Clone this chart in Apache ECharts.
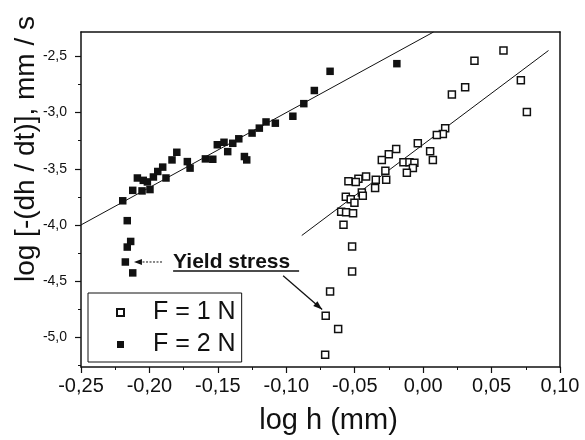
<!DOCTYPE html>
<html>
<head>
<meta charset="utf-8">
<script src="https://cdn.jsdelivr.net/npm/echarts@6/dist/echarts.min.js"></script>
<style>html,body{margin:0;padding:0;background:#fff}#c{width:585px;height:440px}</style>
</head>
<body>
<div id="c"></div>
<script>
// F = 1 N (open squares): log h, log[-(dh/dt)]
var h1 = [0.0587,0.0375,0.0714,0.0307,0.0210,0.0758,0.0161,0.0144,0.0100,-0.0039,0.0051,0.0071,-0.0197,-0.0251,-0.0302,-0.0144,-0.0100,-0.0064,-0.0075,-0.0119,-0.0276,-0.0270,-0.0346,-0.0351,-0.0417,-0.0473,-0.0492,-0.0546,-0.0448,-0.0441,-0.0565,-0.0529,-0.0502,-0.0599,-0.0563,-0.0512,-0.0582,-0.0519,-0.0519,-0.0680,-0.0712,-0.0621,-0.0716];
var v1 = [-2.447,-2.538,-2.712,-2.774,-2.838,-2.994,-3.138,-3.191,-3.200,-3.273,-3.344,-3.421,-3.323,-3.370,-3.421,-3.441,-3.441,-3.447,-3.494,-3.535,-3.518,-3.597,-3.597,-3.670,-3.568,-3.588,-3.617,-3.612,-3.712,-3.741,-3.750,-3.771,-3.803,-3.882,-3.888,-3.897,-3.999,-4.191,-4.415,-4.592,-4.809,-4.927,-5.157];
// F = 2 N (filled squares)
var h2 = [-0.2195,-0.2162,-0.2137,-0.2162,-0.2176,-0.2122,-0.2122,-0.2054,-0.1996,-0.2088,-0.2045,-0.2015,-0.1971,-0.1939,-0.1903,-0.1879,-0.1835,-0.1800,-0.1723,-0.1703,-0.1591,-0.1537,-0.1504,-0.1455,-0.1428,-0.1391,-0.1347,-0.1306,-0.1289,-0.1250,-0.1197,-0.1148,-0.1080,-0.0952,-0.0872,-0.0795,-0.0680,-0.0192];
var v2 = [-3.785,-3.962,-4.147,-4.197,-4.330,-4.427,-3.692,-3.697,-3.685,-3.582,-3.603,-3.617,-3.573,-3.524,-3.485,-3.582,-3.421,-3.353,-3.436,-3.494,-3.412,-3.415,-3.286,-3.264,-3.347,-3.273,-3.233,-3.391,-3.421,-3.182,-3.138,-3.083,-3.094,-3.032,-2.920,-2.803,-2.632,-2.564];
// linear fits (end points)
var fit1H = [-0.0887, 0.0916], fit1V = [-4.094, -2.447];
var fit2H = [-0.25, 0.0076],   fit2V = [-4.000, -2.282];
// tick labels
var xTicks = [-0.25,-0.20,-0.15,-0.10,-0.05,0.00,0.05,0.10];
var yTicks = [-5.0,-4.5,-4.0,-3.5,-3.0,-2.5];
var yMinor = [-5.25,-4.75,-4.25,-3.75,-3.25,-2.75];
var names = ['F = 1 N','F = 2 N'];

function zip(a,b){return a.map(function(v,i){return [v,b[i]];});}
var FONT = '"Liberation Sans", Arial, sans-serif';
var INK = '#111';
var YMIN = -5.265, YMAX = -2.282;

var chart = echarts.init(document.getElementById('c'), null, {renderer:'canvas'});
var option = {
  backgroundColor:'#fff',
  animation:false,
  grid:{left:81, top:32, right:25, bottom:70},
  xAxis:[{
    type:'value', min:-0.25, max:0.10, interval:0.05, position:'bottom',
    axisLine:{show:true, onZero:false, lineStyle:{color:INK, width:1.5}},
    axisTick:{show:true, inside:false, length:6, lineStyle:{color:INK, width:1.2}},
    minorTick:{show:true, splitNumber:2, length:3, lineStyle:{color:INK, width:1}},
    splitLine:{show:false},
    axisLabel:{fontFamily:FONT, fontSize:20, color:INK, margin:9,
      formatter:function(v){return (Math.round(v*100)/100).toFixed(2).replace('.',',').replace('-0,00','0,00');}},
    name:'log h (mm)', nameLocation:'middle', nameGap:39,
    nameTextStyle:{fontFamily:FONT, fontSize:29, color:INK, padding:[0,0,0,16]}
  },{
    type:'value', min:-0.25, max:0.10, position:'top',
    axisLine:{show:true, onZero:false, lineStyle:{color:INK, width:1.5}},
    axisTick:{show:false}, axisLabel:{show:false}, splitLine:{show:false}
  }],
  yAxis:[{
    type:'value', min:YMIN, max:YMAX, position:'left',
    axisLine:{show:true, onZero:false, lineStyle:{color:INK, width:1.5}},
    axisTick:{show:true, inside:false, length:6, customValues:yTicks, lineStyle:{color:INK, width:1.2}},
    splitLine:{show:false},
    axisLabel:{fontFamily:FONT, fontSize:14, color:INK, margin:14, customValues:yTicks,
      formatter:function(v){return v.toFixed(1).replace('.',',');}}
  },{
    type:'value', min:YMIN, max:YMAX, position:'left', offset:0,
    axisLine:{show:false, onZero:false},
    axisTick:{show:true, inside:false, length:3, customValues:yMinor, lineStyle:{color:INK, width:1}},
    axisLabel:{show:false}, splitLine:{show:false}
  },{
    type:'value', min:YMIN, max:YMAX, position:'right',
    axisLine:{show:true, onZero:false, lineStyle:{color:INK, width:1.5}},
    axisTick:{show:false}, axisLabel:{show:false}, splitLine:{show:false}
  }],
  legend:{
    orient:'vertical', left:88, top:293,
    data:[{name:names[0], icon:'rect'},{name:names[1], icon:'rect'}],
    itemWidth:7, itemHeight:7, itemGap:7,
    padding:[7,6,5,28],
    borderColor:INK, borderWidth:1,
    textStyle:{fontFamily:FONT, fontSize:25, color:INK, lineHeight:25, padding:[0,0,0,24]}
  },
  series:[{
    name:names[0], type:'scatter', xAxisIndex:0, yAxisIndex:0,
    symbol:'rect', symbolSize:7,
    itemStyle:{color:'#fff', borderColor:INK, borderWidth:1.5, opacity:1},
    data:zip(h1,v1), z:3
  },{
    name:names[1], type:'scatter', xAxisIndex:0, yAxisIndex:0,
    symbol:'rect', symbolSize:7.5,
    itemStyle:{color:INK, borderColor:INK, borderWidth:0, opacity:1},
    data:zip(h2,v2), z:3
  },{
    name:'fit1', type:'line', showSymbol:false, symbol:'none', silent:true,
    lineStyle:{color:INK, width:1}, data:zip(fit1H,fit1V), z:2
  },{
    name:'fit2', type:'line', showSymbol:false, symbol:'none', silent:true,
    lineStyle:{color:INK, width:1}, data:zip(fit2H,fit2V), z:2
  }],
  graphic:[{
    type:'text', x:26, y:149, rotation:Math.PI/2,
    style:{text:'log [-(dh / dt)], mm / s', fontFamily:FONT, fontSize:28, fill:INK,
      align:'center', verticalAlign:'middle'}
  }]
};
chart.setOption(option);

// annotation (data coordinates)
var noteAt = [-0.1827, -4.33];
var arrowA = [[-0.1908,-4.330],[-0.2113,-4.330]];
var arrowB = [[-0.1023,-4.453],[-0.0738,-4.753]];
function px(p){return chart.convertToPixel({gridIndex:0}, p);}
function head(from,to,len,wid){
  var dx=to[0]-from[0], dy=to[1]-from[1], L=Math.sqrt(dx*dx+dy*dy);
  var ux=dx/L, uy=dy/L, bx=to[0]-ux*len, by=to[1]-uy*len;
  return [[to[0],to[1]],[bx-uy*wid,by+ux*wid],[bx+uy*wid,by-ux*wid]];
}
var a0=px(arrowA[0]), a1=px(arrowA[1]), b0=px(arrowB[0]), b1=px(arrowB[1]), tp=px(noteAt);
var g = option.graphic.slice();
g.push({type:'text', x:tp[0], y:tp[1], style:{text:'Yield stress', fontFamily:FONT, fontSize:21, fontWeight:'bold', fill:INK, align:'left', verticalAlign:'middle'}, z:10});
g.push({type:'line', shape:{x1:tp[0], y1:tp[1]+9, x2:tp[0]+126, y2:tp[1]+9}, style:{stroke:INK, lineWidth:1.5}, z:10});
var ah = head(a0,a1,8,3);
g.push({type:'line', shape:{x1:a0[0], y1:a0[1], x2:ah[1][0], y2:a0[1]}, style:{stroke:INK, lineWidth:1, lineDash:[2,1.5]}, z:10});
g.push({type:'polygon', shape:{points:ah}, style:{fill:INK}, z:10});
var bh = head(b0,b1,9,3.2);
g.push({type:'line', shape:{x1:b0[0], y1:b0[1], x2:b1[0], y2:b1[1]}, style:{stroke:INK, lineWidth:1.3}, z:10});
g.push({type:'polygon', shape:{points:bh}, style:{fill:INK}, z:10});
chart.setOption({graphic:g}, {replaceMerge:['graphic']});
</script>
</body>
</html>
